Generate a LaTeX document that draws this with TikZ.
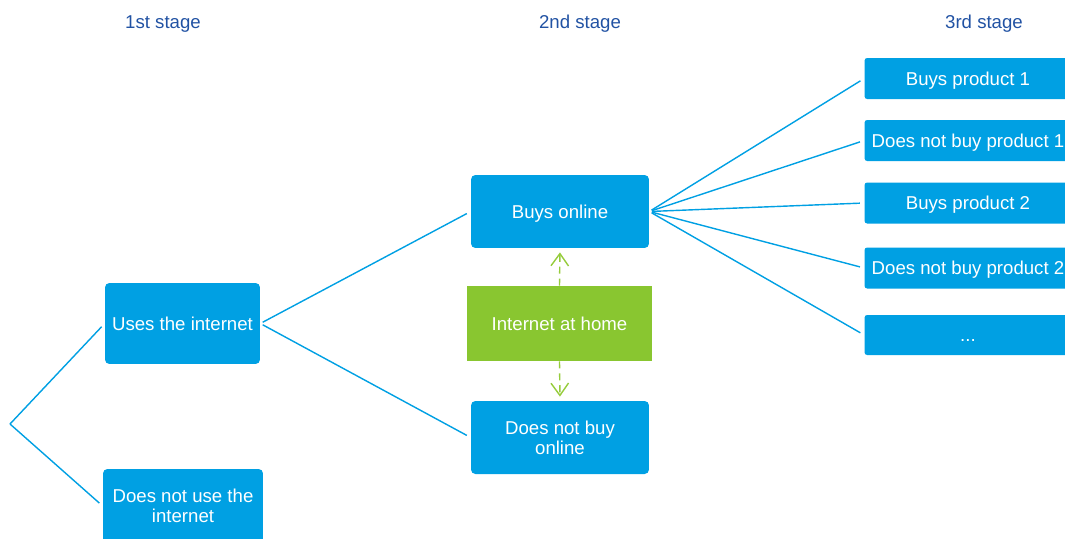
\documentclass[tikz,border=0pt]{standalone}
\usepackage{fontspec}
\setmainfont{Liberation Sans}
\usetikzlibrary{arrows.meta}
\definecolor{boxblue}{RGB}{0,160,227}
\definecolor{boxgreen}{RGB}{137,198,48}
\definecolor{arrowgreen}{RGB}{150,204,60}
\definecolor{stagecol}{RGB}{33,82,163}

\begin{document}
\begin{tikzpicture}[x=0.02cm,y=-0.02cm,font=\fontsize{10.6}{11.6}\selectfont,
  box/.style={fill=boxblue,text=white,rounded corners=2.5pt,align=center,inner sep=0pt,text depth=0pt},
  homebox/.style={fill=boxgreen,text=white,align=center,inner sep=0pt},
  branch/.style={boxblue,line width=0.8pt,shorten <=1.5pt,shorten >=2.5pt},
  influence/.style={arrowgreen,line width=0.8pt,dash pattern=on 4pt off 2.8pt,
    -{Straight Barb[length=7pt,width=10pt]},shorten >=2.3pt},
  stagelabel/.style={text=stagecol}]
  \useasboundingbox (0,0) rectangle (1065,538);
  \def\rw{4.14cm};
  \def\rh{0.82cm};
  %stages
  \node[stagelabel] (stA) at (163,24) {1st stage};
  \node[stagelabel] (stB) at (580,24) {2nd stage};
  \node[stagelabel] (stC) at (984,24) {3rd stage};
  %1st stage
  \coordinate (root) at (10,424);
  \node[box,minimum width=3.1cm,minimum height=1.62cm] (uses) at (182.5,323.5) {Uses the internet};
  \node[box,minimum width=3.2cm,minimum height=1.48cm] (nouse) at (183,506) {Does not use the\\internet};
  %2nd stage
  \node[box,minimum width=3.56cm,minimum height=1.46cm] (buys) at (560,211.5) {Buys online};
  \node[box,minimum width=3.56cm,minimum height=1.46cm] (nobuy) at (560,437.5) {Does not buy\\online};
  \node[homebox,minimum width=3.7cm,minimum height=1.5cm] (home) at (559.5,323.5) {Internet at home};
  %3rd stage
  \node[box,rounded corners=1.5pt,minimum width=\rw,minimum height=\rh] (pA) at (968,78.5) {Buys product 1};
  \node[box,rounded corners=1.5pt,minimum width=\rw,minimum height=\rh] (npA) at (968,140.5) {Does not buy product 1};
  \node[box,rounded corners=1.5pt,minimum width=\rw,minimum height=\rh] (pB) at (968,203) {Buys product 2};
  \node[box,rounded corners=1.5pt,minimum width=\rw,minimum height=\rh] (npB) at (968,268) {Does not buy product 2};
  \node[box,rounded corners=1.5pt,minimum width=\rw,minimum height=0.8cm,text height=0.72em] (more) at (968,335) {...};
  %branches
  \draw[branch,shorten <=0pt] (root)--(uses.west);
  \draw[branch,shorten <=0pt] (root)--(nouse.west);
  \draw[branch] (uses.east)--(buys.west);
  \draw[branch] (uses.east)--(nobuy.west);
  \foreach \t in {pA,npA,pB,npB,more}
    \draw[branch] (buys.east)--(\t.west);
  \draw[influence] (home.north)--(buys.south);
  \draw[influence] (home.south)--(nobuy.north);
\end{tikzpicture}
\end{document}
